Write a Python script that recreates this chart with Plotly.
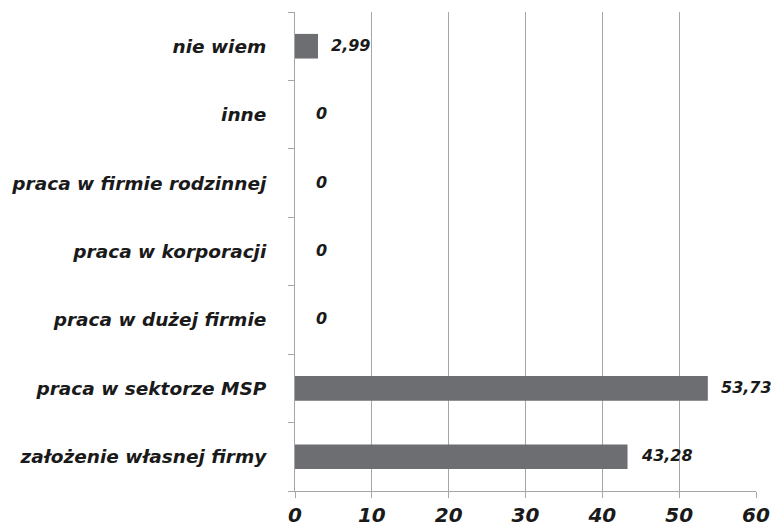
import plotly.graph_objects as go

categories = ["założenie własnej firmy", "praca w sektorze MSP", "praca w dużej firmie",
              "praca w korporacji", "praca w firmie rodzinnej", "inne", "nie wiem"]
values = [43.28, 53.73, 0, 0, 0, 0, 2.99]
x_ticks = [0, 10, 20, 30, 40, 50, 60]

def fmt(v):
    return "0" if v == 0 else f"{v:.2f}".replace(".", ",")

font_family = "DejaVu Sans, Verdana, sans-serif"

fig = go.Figure(go.Bar(
    y=categories, x=values, orientation="h",
    marker=dict(color="#6d6e71", line=dict(width=0)),
    width=0.36, hoverinfo="skip",
))

for c, v in zip(categories, values):
    fig.add_annotation(x=v, y=c, text=f"<b><i>{fmt(v)}</i></b>", showarrow=False,
                       xanchor="left", xshift=11 if v > 0 else 19, yshift=1,
                       font=dict(family=font_family, size=16, color="#1a1a1a"))

fig.update_layout(
    width=771, height=529,
    margin=dict(l=295, r=15, t=12, b=38),
    paper_bgcolor="white", plot_bgcolor="white",
    showlegend=False,
    font=dict(family=font_family, color="#1a1a1a"),
)
fig.update_xaxes(
    range=[0, 60], tickvals=x_ticks,
    ticktext=[f"<b><i>{t}</i></b>" for t in x_ticks],
    tickfont=dict(size=20, family=font_family, color="#1a1a1a"),
    showgrid=True, gridcolor="#a6a6a6", gridwidth=1,
    showline=True, linecolor="#a6a6a6", linewidth=1,
    ticks="outside", ticklen=6, tickcolor="#a6a6a6",
    zeroline=False, fixedrange=True, automargin=False,
)
fig.update_yaxes(
    categoryorder="array", categoryarray=categories,
    tickvals=categories,
    ticktext=[f"<b><i>{c}</i></b>" for c in categories],
    tickfont=dict(size=18.5, family=font_family, color="#1a1a1a"),
    showline=True, linecolor="#a6a6a6", linewidth=1,
    ticks="outside", ticklen=6, tickcolor="#a6a6a6", tickson="boundaries",
    showgrid=False, fixedrange=True, automargin=False,
    ticklabelstandoff=24,
)

fig.write_html("out.html",
               config={"displayModeBar": False},
               post_script="document.body.style.margin='0';document.body.style.overflow='hidden';")
